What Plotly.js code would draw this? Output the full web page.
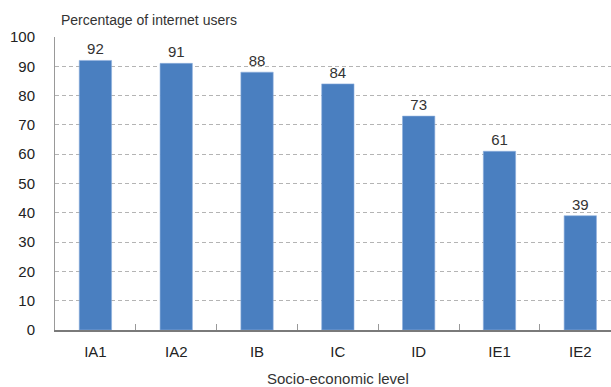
<!DOCTYPE html>
<html>
<head>
<meta charset="utf-8">
<script src="https://cdn.plot.ly/plotly-3.0.1.min.js"></script>
<style>html,body{margin:0;padding:0;background:#fff;}#chart{width:611px;height:387px;}</style>
</head>
<body>
<div id="chart"></div>
<script>
const categories = ["IA1", "IA2", "IB", "IC", "ID", "IE1", "IE2"];
const values = [92, 91, 88, 84, 73, 61, 39];
const yTickVals = [0, 10, 20, 30, 40, 50, 60, 70, 80, 90, 100];
const yTitle = "Percentage of internet users";
const xTitle = "Socio-economic level";

const font = "Liberation Sans, Arial, sans-serif";

const trace = {
  type: "bar",
  x: categories,
  y: values,
  width: 0.4,
  marker: {color: "#4a7fc0", line: {color: "#8fb0de", width: 0.6}},
  text: values.map(String),
  textposition: "outside",
  textfont: {family: font, size: 15, color: "#333"},
  cliponaxis: false,
  hoverinfo: "none"
};

const layout = {
  width: 611, height: 387,
  margin: {l: 55, r: 0, t: 37, b: 57},
  paper_bgcolor: "#fff", plot_bgcolor: "#fff",
  showlegend: false,
  bargap: 0.6,
  font: {family: font, color: "#333"},
  xaxis: {
    type: "category",
    range: [-0.5, 6.38],
    tickson: "boundaries",
    ticks: "inside", ticklen: 6, tickcolor: "#999", tickwidth: 1,
    showline: true, linecolor: "#7a7a7a", linewidth: 2,
    showgrid: false, zeroline: false,
    ticklabelstandoff: 7,
    tickfont: {family: font, size: 15, color: "#222"},
    fixedrange: true
  },
  yaxis: {
    range: [0, 100],
    tickvals: yTickVals,
    showline: true, linecolor: "#999", linewidth: 1,
    showgrid: true, gridcolor: "#b4b4b4", gridwidth: 1, griddash: "4px,3px",
    zeroline: false,
    ticks: "", ticklabelstandoff: 16,
    tickfont: {family: font, size: 15, color: "#222"},
    fixedrange: true
  },
  annotations: [{
    text: yTitle, xref: "paper", yref: "paper",
    x: 0, y: 1, xshift: 4, yshift: 7, xanchor: "left", yanchor: "bottom",
    showarrow: false, font: {family: font, size: 14, color: "#333"}
  }, {
    text: xTitle, xref: "paper", yref: "paper",
    x: 0.5, y: 0, xshift: 5, yshift: -38, xanchor: "center", yanchor: "top",
    showarrow: false, font: {family: font, size: 15, color: "#333"}
  }]
};

Plotly.newPlot("chart", [trace], layout, {displayModeBar: false, staticPlot: true});
</script>
</body>
</html>
